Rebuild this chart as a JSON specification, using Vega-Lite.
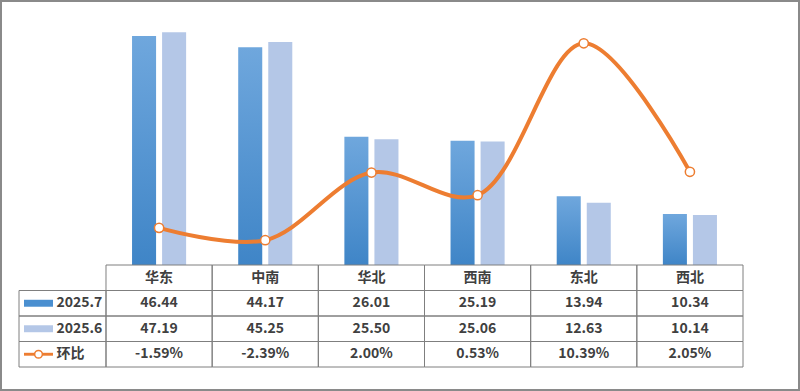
{
  "$schema": "https://vega.github.io/schema/vega-lite/v6.json",
  "width": 800,
  "height": 391,
  "autosize": {"type": "fit", "contains": "padding"},
  "padding": 1,
  "background": "white",
  "config": {
    "view": {"stroke": "#8a8a8a", "strokeWidth": 2},
    "locale": {"number": {"decimal": ".", "thousands": ",", "grouping": [3], "currency": ["", ""], "minus": "-"}},
    "text": {"font": "Noto Sans CJK SC", "fontWeight": "bold", "fontSize": 14, "color": "#404040"}
  },
  "datasets": {
    "d": [
      {"region": "华东", "v7": 46.44, "v6": 47.19, "mom": -0.0159},
      {"region": "中南", "v7": 44.17, "v6": 45.25, "mom": -0.0239},
      {"region": "华北", "v7": 26.01, "v6": 25.50, "mom": 0.0200},
      {"region": "西南", "v7": 25.19, "v6": 25.06, "mom": 0.0053},
      {"region": "东北", "v7": 13.94, "v6": 12.63, "mom": 0.1039},
      {"region": "西北", "v7": 10.34, "v6": 10.14, "mom": 0.0205}
    ],
    "legend": [
      {"row": "v7", "label": "2025.7"},
      {"row": "v6", "label": "2025.6"},
      {"row": "mom", "label": "环比"}
    ]
  },
  "resolve": {"scale": {"x": "independent", "y": "independent", "xOffset": "independent", "color": "independent", "shape": "independent"}},
  "layer": [
    {
      "data": {"name": "d"},
      "transform": [{"fold": ["v7", "v6"], "as": ["series", "val"]}, {"filter": "datum.series === 'v7'"}],
      "mark": {"type": "bar", "color": {"gradient": "linear", "x1": 0, "y1": 0, "x2": 0, "y2": 1, "stops": [{"offset": 0, "color": "#6FA7DD"}, {"offset": 1, "color": "#3F85C7"}]}},
      "encoding": {
        "x": {"field": "region", "type": "nominal", "sort": null, "axis": null, "scale": {"domain": ["华东", "中南", "华北", "西南", "东北", "西北"], "range": [105, 742], "paddingInner": 0.4906, "paddingOuter": 0.2453}},
        "xOffset": {"field": "series", "type": "nominal", "scale": {"domain": ["v7", "v6"], "paddingInner": 0.2, "paddingOuter": 0}},
        "y": {"field": "val", "type": "quantitative", "axis": null, "scale": {"domain": [0, 50], "range": [264, 17.5], "nice": false}}
      }
    },
    {
      "data": {"name": "d"},
      "transform": [{"fold": ["v7", "v6"], "as": ["series", "val"]}, {"filter": "datum.series === 'v6'"}],
      "mark": {"type": "bar", "color": "#B4C7E7"},
      "encoding": {
        "x": {"field": "region", "type": "nominal", "sort": null, "axis": null, "scale": {"domain": ["华东", "中南", "华北", "西南", "东北", "西北"], "range": [105, 742], "paddingInner": 0.4906, "paddingOuter": 0.2453}},
        "xOffset": {"field": "series", "type": "nominal", "scale": {"domain": ["v7", "v6"], "paddingInner": 0.2, "paddingOuter": 0}},
        "y": {"field": "val", "type": "quantitative", "axis": null, "scale": {"domain": [0, 50], "range": [264, 17.5], "nice": false}}
      }
    },
    {
      "data": {"name": "d"},
      "mark": {"type": "line", "color": "#ED7D31", "strokeWidth": 4, "interpolate": "catmull-rom"},
      "encoding": {
        "x": {"field": "region", "type": "nominal", "sort": null, "axis": null, "scale": {"domain": ["华东", "中南", "华北", "西南", "东北", "西北"], "range": [105, 742], "paddingInner": 0.4906, "paddingOuter": 0.2453}},
        "y": {"field": "mom", "type": "quantitative", "axis": null, "scale": {"domain": [-0.04, 0.12], "range": [264, 17.5], "nice": false, "zero": false}}
      }
    },
    {
      "data": {"name": "d"},
      "mark": {"type": "point", "filled": true, "fill": "white", "stroke": "#ED7D31", "strokeWidth": 1.5, "size": 85, "opacity": 1},
      "encoding": {
        "x": {"field": "region", "type": "nominal", "sort": null, "axis": null, "scale": {"domain": ["华东", "中南", "华北", "西南", "东北", "西北"], "range": [105, 742], "paddingInner": 0.4906, "paddingOuter": 0.2453}},
        "y": {"field": "mom", "type": "quantitative", "axis": null, "scale": {"domain": [-0.04, 0.12], "range": [264, 17.5], "nice": false, "zero": false}}
      }
    },
    {
      "data": {"name": "d"},
      "transform": [{"calculate": "datum.region", "as": "hdr"}, {"fold": ["hdr", "v7", "v6", "mom"], "as": ["row", "val"]}],
      "mark": {"type": "rect", "fill": null, "stroke": "#7f7f7f", "strokeWidth": 1},
      "encoding": {
        "x": {"field": "region", "type": "nominal", "sort": null, "axis": null, "scale": {"domain": ["华东", "中南", "华北", "西南", "东北", "西北"], "range": [105, 742], "paddingInner": 0, "paddingOuter": 0}},
        "y": {"field": "row", "type": "nominal", "sort": null, "axis": null, "scale": {"domain": ["hdr", "v7", "v6", "mom"], "range": [264, 366], "paddingInner": 0, "paddingOuter": 0}}
      }
    },
    {
      "data": {"name": "legend"},
      "mark": {"type": "rect", "fill": null, "stroke": "#7f7f7f", "strokeWidth": 1},
      "encoding": {
        "x": {"datum": "legend", "type": "nominal", "axis": null, "scale": {"domain": ["legend"], "range": [18, 105], "paddingInner": 0, "paddingOuter": 0}},
        "y": {"field": "row", "type": "nominal", "sort": null, "axis": null, "scale": {"domain": ["hdr", "v7", "v6", "mom"], "range": [264, 366], "paddingInner": 0, "paddingOuter": 0}}
      }
    },
    {
      "data": {"name": "d"},
      "mark": {"type": "text", "align": "center", "baseline": "middle"},
      "encoding": {
        "x": {"field": "region", "type": "nominal", "sort": null, "axis": null, "scale": {"domain": ["华东", "中南", "华北", "西南", "东北", "西北"], "range": [105, 742], "paddingInner": 0, "paddingOuter": 0}},
        "y": {"datum": "hdr", "type": "nominal", "axis": null, "scale": {"domain": ["hdr", "v7", "v6", "mom"], "range": [264, 366], "paddingInner": 0, "paddingOuter": 0}},
        "text": {"field": "region"}
      }
    },
    {
      "data": {"name": "d"},
      "transform": [{"fold": ["v7", "v6"], "as": ["row", "val"]}],
      "mark": {"type": "text", "align": "center", "baseline": "middle"},
      "encoding": {
        "x": {"field": "region", "type": "nominal", "sort": null, "axis": null, "scale": {"domain": ["华东", "中南", "华北", "西南", "东北", "西北"], "range": [105, 742], "paddingInner": 0, "paddingOuter": 0}},
        "y": {"field": "row", "type": "nominal", "axis": null, "scale": {"domain": ["hdr", "v7", "v6", "mom"], "range": [264, 366], "paddingInner": 0, "paddingOuter": 0}},
        "text": {"field": "val", "type": "quantitative", "format": ".2f"}
      }
    },
    {
      "data": {"name": "d"},
      "mark": {"type": "text", "align": "center", "baseline": "middle"},
      "encoding": {
        "x": {"field": "region", "type": "nominal", "sort": null, "axis": null, "scale": {"domain": ["华东", "中南", "华北", "西南", "东北", "西北"], "range": [105, 742], "paddingInner": 0, "paddingOuter": 0}},
        "y": {"datum": "mom", "type": "nominal", "axis": null, "scale": {"domain": ["hdr", "v7", "v6", "mom"], "range": [264, 366], "paddingInner": 0, "paddingOuter": 0}},
        "text": {"field": "mom", "type": "quantitative", "format": ".2%"}
      }
    },
    {
      "data": {"name": "legend"},
      "mark": {"type": "text", "align": "left", "baseline": "middle"},
      "encoding": {
        "x": {"datum": "label", "type": "nominal", "axis": null, "scale": {"type": "point", "domain": ["sym", "label"], "range": [37.5, 55.5], "padding": 0}},
        "y": {"field": "row", "type": "nominal", "axis": null, "scale": {"domain": ["hdr", "v7", "v6", "mom"], "range": [264, 366], "paddingInner": 0, "paddingOuter": 0}},
        "text": {"field": "label"}
      }
    },
    {
      "data": {"name": "legend"},
      "mark": {"type": "point", "filled": true, "size": 841, "opacity": 1},
      "encoding": {
        "x": {"datum": "sym", "type": "nominal", "axis": null, "scale": {"type": "point", "domain": ["sym", "label"], "range": [37.5, 55.5], "padding": 0}},
        "y": {"field": "row", "type": "nominal", "axis": null, "scale": {"domain": ["hdr", "v7", "v6", "mom"], "range": [264, 366], "paddingInner": 0, "paddingOuter": 0}},
        "color": {"field": "row", "type": "nominal", "legend": null, "scale": {"domain": ["v7", "v6", "mom"], "range": ["#4A8FD0", "#B4C7E7", "#ED7D31"]}},
        "shape": {"field": "row", "type": "nominal", "legend": null, "scale": {"domain": ["v7", "v6", "mom"], "range": ["M-1,-0.24H1V0.24H-1Z", "M-1,-0.24H1V0.24H-1Z", "M-1,-0.1H1V0.1H-1Z"]}}
      }
    },
    {
      "data": {"name": "legend"},
      "transform": [{"filter": "datum.row === 'mom'"}],
      "mark": {"type": "point", "filled": true, "fill": "white", "stroke": "#ED7D31", "strokeWidth": 1.5, "size": 60, "opacity": 1},
      "encoding": {
        "x": {"datum": "sym", "type": "nominal", "axis": null, "scale": {"type": "point", "domain": ["sym", "label"], "range": [37.5, 55.5], "padding": 0}},
        "y": {"field": "row", "type": "nominal", "axis": null, "scale": {"domain": ["hdr", "v7", "v6", "mom"], "range": [264, 366], "paddingInner": 0, "paddingOuter": 0}}
      }
    }
  ]
}
